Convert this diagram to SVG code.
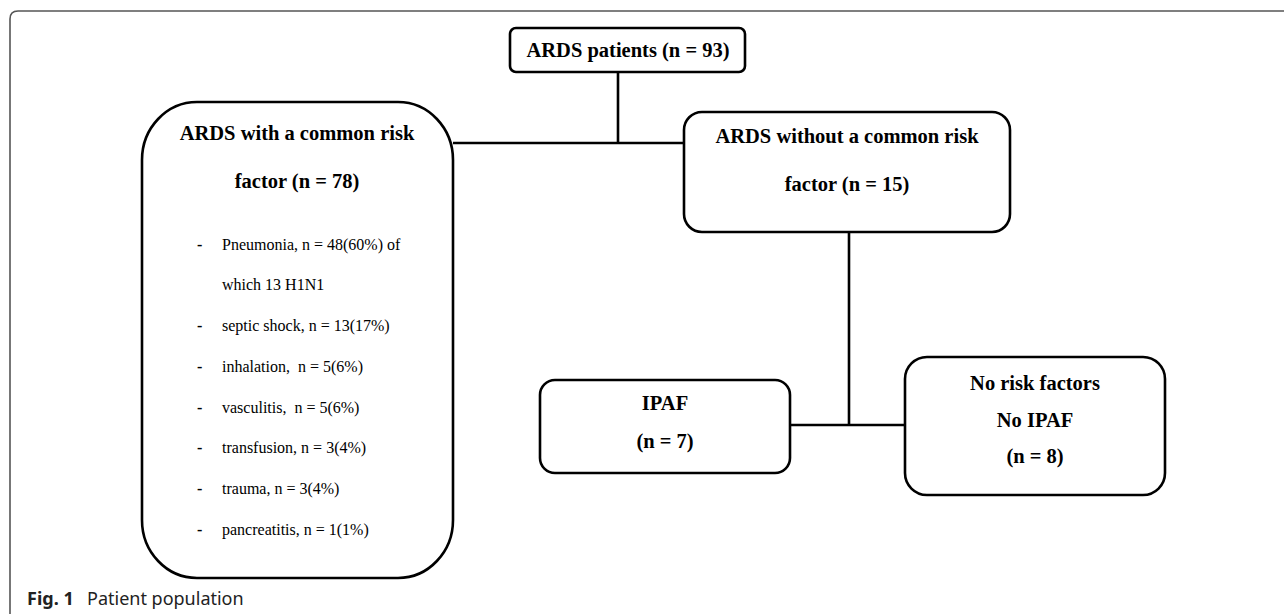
<svg xmlns="http://www.w3.org/2000/svg" width="1284" height="615" viewBox="0 0 1284 615">
<style>
.box{fill:#fff;stroke:#000;stroke-width:2.6}
.conn{fill:none;stroke:#000;stroke-width:2.6}
.t{font-family:"Liberation Serif","Times New Roman",serif;font-weight:bold;font-size:20.5px;fill:#000;text-anchor:middle}
.b{font-family:"Liberation Serif","Times New Roman",serif;font-size:16px;fill:#000}
.d{font-weight:bold}
.cap{font-family:"Noto Sans","Open Sans",sans-serif;font-size:18px;fill:#222}
</style>
<rect width="1284" height="615" fill="#fff"/>
<path d="M10,614 V19 Q10,11 18,11 H1284" fill="none" stroke="#555" stroke-width="1.6"/>
<g id="connectors">
<path class="conn" d="M618,72 V143 M453,143 H684"/>
<path class="conn" d="M849,232 V425 M790,425 H905"/>
</g>
<g id="n-all">
<rect class="box" x="510" y="28" width="235" height="44" rx="6"/>
<text class="t" x="628" y="57">ARDS patients (n = 93)</text>
</g>
<g id="n-common">
<rect class="box" x="142" y="102" width="311" height="476" rx="55" ry="58"/>
<text class="t" x="297" y="140">ARDS with a common risk</text>
<text class="t" x="297" y="188">factor (n = 78)</text>
<g class="b">
<text class="d" x="197" y="250">-</text><text x="222" y="250">Pneumonia, n = 48(60%) of</text>
<text x="222" y="290">which 13 H1N1</text>
<text class="d" x="197" y="331">-</text><text x="222" y="331">septic shock, n = 13(17%)</text>
<text class="d" x="197" y="372">-</text><text x="222" y="372" xml:space="preserve">inhalation,  n = 5(6%)</text>
<text class="d" x="197" y="413">-</text><text x="222" y="413" xml:space="preserve">vasculitis,  n = 5(6%)</text>
<text class="d" x="197" y="453">-</text><text x="222" y="453">transfusion, n = 3(4%)</text>
<text class="d" x="197" y="494">-</text><text x="222" y="494">trauma, n = 3(4%)</text>
<text class="d" x="197" y="535">-</text><text x="222" y="535">pancreatitis, n = 1(1%)</text>
</g>
</g>
<g id="n-without">
<rect class="box" x="684" y="112" width="326" height="120" rx="18"/>
<text class="t" x="847" y="143">ARDS without a common risk</text>
<text class="t" x="847" y="191">factor (n = 15)</text>
</g>
<g id="n-ipaf">
<rect class="box" x="540" y="380" width="250" height="93" rx="15"/>
<text class="t" x="665" y="410">IPAF</text>
<text class="t" x="665" y="448">(n = 7)</text>
</g>
<g id="n-norisk">
<rect class="box" x="905" y="357" width="260" height="138" rx="22"/>
<text class="t" x="1035" y="390">No risk factors</text>
<text class="t" x="1035" y="427">No IPAF</text>
<text class="t" x="1035" y="463">(n = 8)</text>
</g>
<text class="cap" x="27" y="605"><tspan font-weight="bold">Fig. 1</tspan><tspan x="87">Patient population</tspan></text>
</svg>
